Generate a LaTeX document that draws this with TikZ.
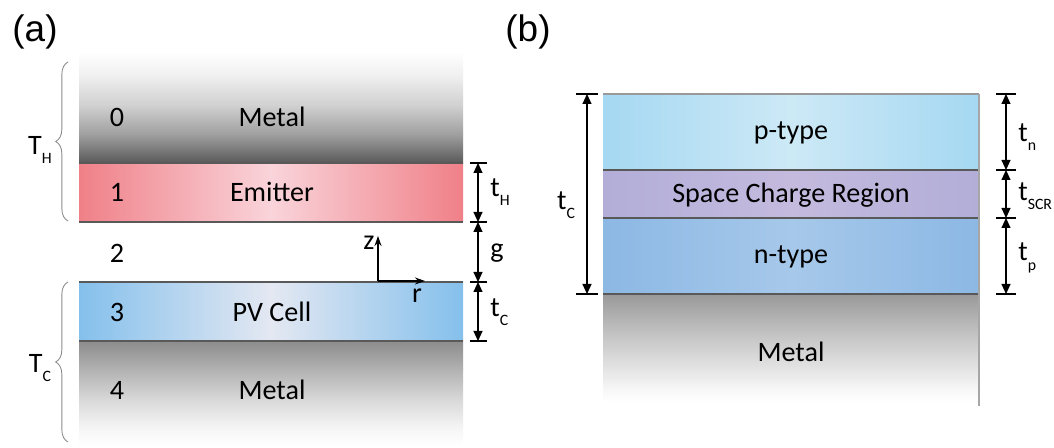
\documentclass[tikz,border=0pt]{standalone}
\usepackage{fontspec}
\setmainfont{Carlito}
\newfontfamily\panelfont{Liberation Sans}
\usetikzlibrary{arrows.meta,decorations.pathreplacing}

\definecolor{emitedge}{RGB}{240,128,136}
\definecolor{emitmid}{RGB}{249,212,218}
\definecolor{pvedge}{RGB}{132,192,236}
\definecolor{pvmid}{RGB}{228,232,242}
\definecolor{ptedge}{RGB}{165,216,242}
\definecolor{ptmid}{RGB}{205,233,246}
\definecolor{scredge}{RGB}{178,174,216}
\definecolor{scrmid}{RGB}{196,186,222}
\definecolor{ntedge}{RGB}{140,184,228}
\definecolor{ntmid}{RGB}{166,200,234}

\newcommand{\subs}[1]{\raisebox{-0.7ex}{\fontsize{9}{10}\selectfont #1}}

\begin{document}
\begin{tikzpicture}[x=0.02cm, y=-0.02cm,
  lbl/.style = {font=\fontsize{16}{19}\selectfont, inner sep=0pt},
  panel/.style = {font=\panelfont\fontsize{21}{24}\selectfont, inner sep=0pt},
  dim/.style = {{Triangle[length=2mm,width=1.8mm]}-{Triangle[length=2mm,width=1.8mm]}, line width=0.6pt},
  tickline/.style = {line width=0.6pt},
  axis/.style = {-{Stealth[length=2mm,width=1.4mm]}, line width=0.7pt},
  border/.style = {draw=black!65, line width=0.7pt},
  brc/.style = {decorate, decoration={brace, amplitude=7pt}, draw=black!45, line width=0.5pt}
]
\useasboundingbox (0,0) rectangle (1054,448);

% (a) layers
\foreach \ya/\yb/\ca/\cb in {52/75/0/6,75/105/6/18,105/135/18/38,135/164/38/66}
  \shade[top color=black!\ca, bottom color=black!\cb] (79,\ya) rectangle (463,\yb);
\shade[left color=emitedge, right color=emitedge, middle color=emitmid] (79,163) rectangle (463,222);
\shade[left color=pvedge, right color=pvedge, middle color=pvmid] (79,282) rectangle (463,341);
\foreach \ya/\yb/\ca/\cb in {341/370/45/30,370/400/30/15,400/428/15/4,428/445/4/0}
  \shade[top color=black!\ca, bottom color=black!\cb] (79,\ya) rectangle (463,\yb);
\draw[border] (79,163) -- (463,163);
\draw[border] (79,222) -- (463,222);
\draw[border] (79,282) -- (463,282);
\draw[border] (79,341) -- (463,341);

\node[panel] (pa) at (35,32) {(a)};

\node[lbl] (n0) at (117,117) {0};
\node[lbl] (n1) at (117,192) {1};
\node[lbl] (n2) at (117,253) {2};
\node[lbl] (n3) at (117,312) {3};
\node[lbl] (n4) at (117,390) {4};
\node[lbl] (metal0) at (272,117) {Metal};
\node[lbl] (emit) at (272,192) {Emitter};
\node[lbl] (pv) at (272,312) {PV Cell};
\node[lbl] (metal4) at (272,390) {Metal};

% braces
\coordinate (bh1) at (68,221);
\coordinate (bh2) at (68,62);
\coordinate (bc1) at (68,442);
\coordinate (bc2) at (68,282);
\draw[brc] (bh1) -- (bh2);
\draw[brc] (bc1) -- (bc2);
\node[lbl] (TH) at (40,150) {T\subs{H}};
\node[lbl] (TC) at (40,368) {T\subs{C}};

% axes
\coordinate (o) at (378,281);
\coordinate (zt) at (378,236);
\coordinate (rt) at (425,281);
\draw[axis] (o) -- (zt);
\draw[axis] (o) -- (rt);
\node[lbl] (zl) at (369,243) {z};
\node[lbl] (rl) at (417,296) {r};

% (a) dimensions
\foreach \y/\nm in {163/a1,222/a2,282/a3,341/a4}{
  \coordinate (\nm) at (478,\y);
  \draw[tickline] (470,\y) -- (487,\y);
}
\draw[dim] (a1) -- (a2);
\draw[dim] (a2) -- (a3);
\draw[dim] (a3) -- (a4);
\node[lbl, anchor=west] (tH) at (490,192) {t\subs{H}};
\node[lbl, anchor=west] (gl) at (490,253) {g};
\node[lbl, anchor=west] (tCa) at (490,312) {t\subs{C}};

% (b) layers
\node[panel] (pb) at (528,32) {(b)};
\shade[left color=ptedge, right color=ptedge, middle color=ptmid] (603,94) rectangle (979,170);
\shade[left color=scredge, right color=scredge, middle color=scrmid] (603,170) rectangle (979,218);
\shade[left color=ntedge, right color=ntedge, middle color=ntmid] (603,218) rectangle (979,294);
\foreach \ya/\yb/\ca/\cb in {294/330/40/25,330/365/25/12,365/390/12/3,390/402/3/0}
  \shade[top color=black!\ca, bottom color=black!\cb] (603,\ya) rectangle (979,\yb);
\draw[draw=black!40, line width=0.6pt] (603,94) -- (979,94);
\draw[border] (603,170) -- (979,170);
\draw[border] (603,218) -- (979,218);
\draw[border] (603,294) -- (979,294);
\draw[draw=black!35, line width=0.6pt] (979,94) -- (979,406);

\node[lbl] (ptype) at (791,133) {p-type};
\node[lbl] (scr) at (791,195) {Space Charge Region};
\node[lbl] (ntype) at (791,257) {n-type};
\node[lbl] (metalb) at (791,352) {Metal};

% (b) dimensions
\coordinate (l1) at (587,94);
\coordinate (l2) at (587,294);
\draw[tickline] (576,94) -- (598,94);
\draw[tickline] (576,294) -- (598,294);
\draw[dim] (l1) -- (l2);
\node[lbl] (tCb) at (566,205) {t\subs{C}};

\foreach \y/\nm in {94/b1,170/b2,218/b3,294/b4}{
  \coordinate (\nm) at (1006,\y);
  \draw[tickline] (996,\y) -- (1016,\y);
}
\draw[dim] (b1) -- (b2);
\draw[dim] (b2) -- (b3);
\draw[dim] (b3) -- (b4);
\node[lbl, anchor=west] (tn) at (1018,137) {t\subs{n}};
\node[lbl, anchor=west] (tscr) at (1018,196) {t\subs{SCR}};
\node[lbl, anchor=west] (tp) at (1018,258) {t\subs{p}};
\end{tikzpicture}
\end{document}
